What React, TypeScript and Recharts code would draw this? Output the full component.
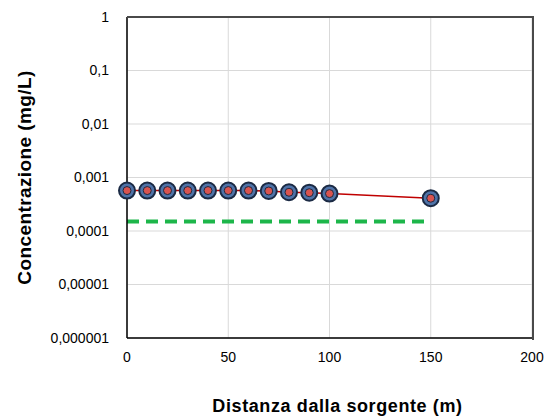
import React from 'react';
import { ComposedChart, Line, XAxis, YAxis, CartesianGrid } from 'recharts';

const distances = [0, 10, 20, 30, 40, 50, 60, 70, 80, 90, 100, 150];
const concentrations = [0.00057, 0.00057, 0.00057, 0.00057, 0.00057, 0.00057, 0.00057, 0.00056, 0.00053, 0.00052, 0.0005, 0.00041];
const limitX = [0, 150];
const limitValues = [0.00015, 0.00015];
const xTicks = [0, 50, 100, 150, 200];
const yTicks = [0.000001, 0.00001, 0.0001, 0.001, 0.01, 0.1, 1];
const yTickLabels = ['0,000001', '0,00001', '0,0001', '0,001', '0,01', '0,1', '1'];

const measured = distances.map((x, i) => ({ x, c: concentrations[i] }));
const limit = limitX.map((x, i) => ({ x, c: limitValues[i] }));

const FONT = '"Liberation Sans", Arial, sans-serif';

const Marker = (props: any) => {
  const { cx, cy } = props;
  if (cx == null || cy == null) return null;
  return (
    <g>
      <circle cx={cx} cy={cy} r={8} fill="#4f73a8" stroke="#1b2a44" strokeWidth={2} />
      <circle cx={cx} cy={cy} r={4} fill="#d9534f" stroke="#1b2a44" strokeWidth={1} />
    </g>
  );
};

const App: React.FC = () => {
  return (
    <div style={{ position: 'absolute', left: 0, top: 0, width: 547, height: 417, background: '#fff' }}>
      <ComposedChart width={547} height={417} margin={{ top: 17, right: 15, bottom: 0, left: 0 }}>
        <CartesianGrid stroke="#d9d9d9" strokeWidth={1} />
        <XAxis
          type="number"
          dataKey="x"
          domain={[0, 200]}
          ticks={xTicks}
          height={79}
          tickLine={false}
          tickMargin={8}
          axisLine={{ stroke: '#000', strokeWidth: 1.5 }}
          tick={{ fill: '#000', fontSize: 14, fontFamily: FONT }}
          label={{
            value: 'Distanza dalla sorgente (m)',
            position: 'insideBottom',
            offset: 5,
            dx: 8,
            style: { fill: '#000', fontSize: 18, fontWeight: 'bold', fontFamily: FONT, letterSpacing: 0.6 },
          }}
        />
        <YAxis
          type="number"
          scale="log"
          domain={[0.000001, 1]}
          ticks={yTicks}
          allowDataOverflow
          width={127}
          tickLine={false}
          tickMargin={12}
          axisLine={{ stroke: '#000', strokeWidth: 1.5 }}
          tick={{ fill: '#000', fontSize: 14, fontFamily: FONT }}
          tickFormatter={(v: number) => yTickLabels[yTicks.indexOf(v)] ?? String(v)}
          label={{
            value: 'Concentrazione (mg/L)',
            angle: -90,
            position: 'insideLeft',
            offset: 24,
            style: { textAnchor: 'middle', fill: '#000', fontSize: 19, fontWeight: 'bold', fontFamily: FONT, letterSpacing: 0.4 },
          }}
        />
        <Line
          data={limit}
          dataKey="c"
          stroke="#1db64a"
          strokeWidth={4}
          strokeDasharray="12 7"
          dot={false}
          isAnimationActive={false}
        />
        <Line
          data={measured}
          dataKey="c"
          stroke="#c00000"
          strokeWidth={1.5}
          dot={<Marker />}
          activeDot={false}
          isAnimationActive={false}
        />
      </ComposedChart>
      {/* dark frame on top/right of plot area, drawn above the svg */}
      <div
        style={{
          position: 'absolute',
          left: 127,
          top: 16,
          width: 405,
          height: 322,
          borderTop: '2px solid #4a4a4a',
          borderRight: '2px solid #4a4a4a',
          pointerEvents: 'none',
          zIndex: 2,
        }}
      />
    </div>
  );
};

export default App;
